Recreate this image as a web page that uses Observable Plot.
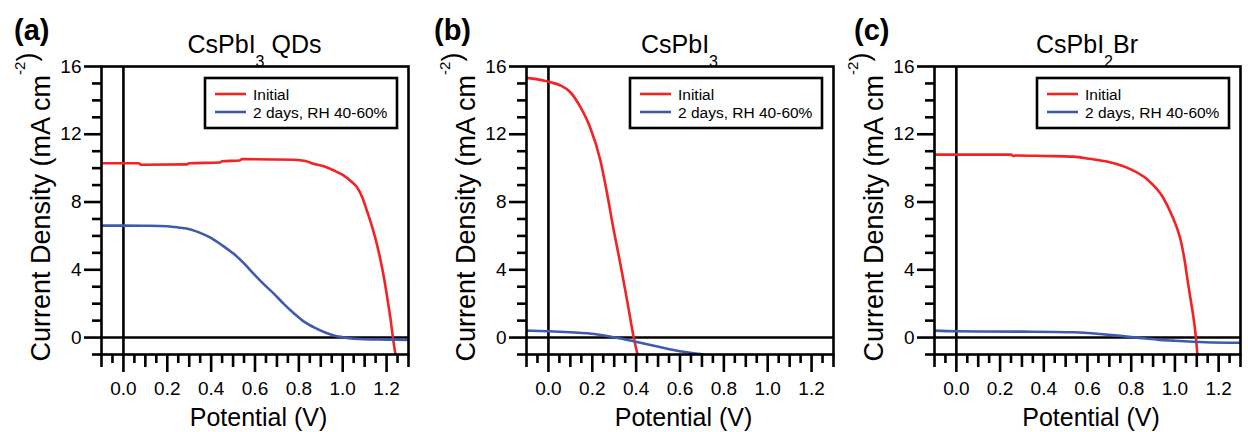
<!DOCTYPE html>
<html><head><meta charset="utf-8">
<script src="https://cdn.jsdelivr.net/npm/d3@7"></script>
<script src="https://cdn.jsdelivr.net/npm/@observablehq/plot@0.6"></script>
<style>
html,body{margin:0;padding:0;background:#fff;}
#chart{position:relative;width:1248px;height:432px;overflow:hidden;font-family:"Liberation Sans",Arial,sans-serif;}
#chart svg{position:absolute;top:0;}
</style></head><body><div id="chart"></div>
<script>
// ---- text ----
const panelLetters = ["(a)", "(b)", "(c)"];
const titleMain = ["CsPbI", "CsPbI", "CsPbI"];
const titleSub = ["3", "3", "2"];
const titleRest = [" QDs", "", "Br"];
const seriesNames = ["Initial", "2 days, RH 40-60%"];
const seriesColors = ["#f42222", "#3e5bb0"];
const xLabel = "Potential (V)";
const yLabelMain = "Current Density (mA cm";
const yLabelSup = "-2";
const yLabelEnd = ")";

// ---- ticks ----
const xTickValues = [0, 0.2, 0.4, 0.6, 0.8, 1.0, 1.2];
const xMidTicks = [-0.1, 0.1, 0.3, 0.5, 0.7, 0.9, 1.1, 1.3];
const xMinorTicks = [-0.05, 0.05, 0.15, 0.25, 0.35, 0.45, 0.55, 0.65, 0.75, 0.85, 0.95, 1.05, 1.15, 1.25];
const yTickValues = [0, 4, 8, 12, 16];
const yMinorTicks = [-1, 1, 2, 3, 5, 6, 7, 9, 10, 11, 13, 14, 15];

// ---- data: (a) CsPbI3 QDs ----
const aInitialV = [-0.1, 0.07, 0.08, 0.29, 0.30, 0.44, 0.45, 0.53, 0.54, 0.78, 0.83, 0.87, 0.92, 0.96, 1.00, 1.04, 1.07, 1.09, 1.11, 1.135, 1.158, 1.175, 1.19, 1.205, 1.218, 1.229, 1.243];
const aInitialJ = [10.29, 10.29, 10.2, 10.22, 10.29, 10.33, 10.41, 10.45, 10.53, 10.5, 10.42, 10.25, 10.08, 9.86, 9.6, 9.2, 8.78, 8.25, 7.5, 6.5, 5.4, 4.4, 3.4, 2.2, 1.1, 0.0, -1.2];
const aAgedV = [-0.1, 0.0, 0.1, 0.2, 0.25, 0.306, 0.35, 0.397, 0.45, 0.503, 0.55, 0.594, 0.64, 0.687, 0.73, 0.778, 0.82, 0.869, 0.92, 0.96, 1.0, 1.04, 1.1, 1.2, 1.3];
const aAgedJ = [6.61, 6.61, 6.6, 6.57, 6.5, 6.38, 6.18, 5.9, 5.45, 4.94, 4.38, 3.76, 3.15, 2.58, 2.0, 1.42, 0.97, 0.6, 0.3, 0.12, 0.02, -0.06, -0.1, -0.12, -0.14];

// ---- data: (b) CsPbI3 ----
const bInitialV = [-0.1, -0.037, 0.009, 0.055, 0.1, 0.146, 0.19, 0.237, 0.268, 0.298, 0.328, 0.359, 0.389, 0.41];
const bInitialJ = [15.33, 15.21, 15.07, 14.88, 14.48, 13.6, 12.41, 10.45, 8.48, 6.32, 4.35, 2.18, 0.0, -1.2];
const bAgedV = [-0.1, 0.0, 0.1, 0.176, 0.24, 0.298, 0.35, 0.389, 0.45, 0.511, 0.57, 0.633, 0.68, 0.709];
const bAgedJ = [0.41, 0.37, 0.31, 0.25, 0.15, 0.02, -0.12, -0.22, -0.4, -0.57, -0.73, -0.87, -0.96, -1.0];

// ---- data: (c) CsPbI2Br ----
const cInitialV = [-0.1, 0.25, 0.26, 0.27, 0.4, 0.535, 0.611, 0.702, 0.793, 0.87, 0.945, 0.99, 1.01, 1.029, 1.045, 1.06, 1.075, 1.087, 1.096, 1.104];
const cInitialJ = [10.8, 10.8, 10.72, 10.75, 10.72, 10.68, 10.55, 10.35, 9.96, 9.37, 8.28, 7.1, 6.45, 5.6, 4.5, 3.2, 2.0, 1.0, 0.0, -1.2];
const cAgedV = [-0.1, 0.0, 0.3, 0.535, 0.6, 0.657, 0.75, 0.839, 0.92, 0.99, 1.14, 1.3];
const cAgedJ = [0.41, 0.37, 0.35, 0.31, 0.27, 0.21, 0.1, -0.02, -0.12, -0.18, -0.28, -0.31];

const panelSeries = [
  [[aInitialV, aInitialJ], [aAgedV, aAgedJ]],
  [[bInitialV, bInitialJ], [bAgedV, bAgedJ]],
  [[cInitialV, cInitialJ], [cAgedV, cAgedJ]]
];

// ---- layout ----
const svgLeft = [0, 420, 840];
const svgWidth = [420, 420, 408];
const mLeft = [101, 106, 94];
const mRight = [12, 7, 8];
const H = 432, mTop = 66, mBottom = 78;
const FONT = "Liberation Sans, Arial, sans-serif";
const SW = 2.6;

const chart = document.getElementById("chart");

panelLetters.forEach((letter, i) => {
  const rows = [];
  panelSeries[i].forEach(([V, J], s) => {
    V.forEach((v, k) => rows.push({V: v, J: J[k], series: seriesNames[s]}));
  });
  const W = svgWidth[i];
  const plot = Plot.plot({
    width: W, height: H,
    marginLeft: mLeft[i], marginRight: mRight[i], marginTop: mTop, marginBottom: mBottom,
    style: {fontFamily: FONT, fontSize: "19px", color: "black", background: "white", overflow: "visible"},
    x: {domain: [-0.1, 1.3], label: null},
    y: {domain: [-1, 16], label: null},
    color: {domain: seriesNames, range: seriesColors},
    marks: [
      Plot.ruleX([0], {stroke: "black", strokeWidth: SW}),
      Plot.ruleY([0], {stroke: "black", strokeWidth: SW}),
      Plot.line(rows, {x: "V", y: "J", z: "series", stroke: "series", strokeWidth: 2.6, curve: "monotone-x", clip: true}),
      Plot.frame({stroke: "black", strokeWidth: SW}),
      Plot.axisX(xTickValues, {tickSize: 18, tickPadding: 9, tickFormat: d3.format(".1f"), stroke: "black", strokeWidth: SW, fontSize: 19, label: null}),
      Plot.axisX(xMidTicks, {tickSize: 13, text: null, stroke: "black", strokeWidth: SW, label: null}),
      Plot.axisX(xMinorTicks, {tickSize: 9, text: null, stroke: "black", strokeWidth: SW, label: null}),
      Plot.axisY(yTickValues, {tickSize: 17, tickPadding: 3, stroke: "black", strokeWidth: SW, fontSize: 19, label: null}),
      Plot.axisY(yMinorTicks, {tickSize: 9, text: null, stroke: "black", strokeWidth: SW, label: null})
    ]
  });
  plot.style.left = svgLeft[i] + "px";
  chart.appendChild(plot);

  const svg = d3.select(plot);
  const fx0 = mLeft[i], fx1 = W - mRight[i];
  const cx = (fx0 + fx1) / 2;

  // panel letter
  svg.append("text").attr("x", 14).attr("y", 40).attr("text-anchor", "start")
    .attr("font-family", FONT).attr("font-weight", "bold").attr("font-size", 29)
    .attr("fill", "black").text(letter);

  // title with subscript
  const t = svg.append("text").attr("x", cx).attr("y", 53).attr("text-anchor", "middle")
    .attr("font-family", FONT).attr("font-size", 25).attr("fill", "black");
  t.append("tspan").text(titleMain[i]);
  t.append("tspan").attr("font-size", 16).attr("dy", 14).text(titleSub[i]);
  t.append("tspan").attr("font-size", 25).attr("dy", -14).text(titleRest[i]);

  // x label
  svg.append("text").attr("x", cx + 4).attr("y", 426).attr("text-anchor", "middle")
    .attr("font-family", FONT).attr("font-size", 25).attr("fill", "black").text(xLabel);

  // y label
  const yl = svg.append("text").attr("transform", `translate(${fx0 - 51},207) rotate(-90)`)
    .attr("text-anchor", "middle").attr("font-family", FONT).attr("font-size", 27).attr("fill", "black");
  yl.append("tspan").text(yLabelMain);
  yl.append("tspan").attr("font-size", 15).attr("dy", -25).text(yLabelSup);
  yl.append("tspan").attr("font-size", 27).attr("dy", 11).text(yLabelEnd);

  // legend
  const lw = 192, lh = 50;
  const lx = fx1 - 11 - lw, ly = 78;
  const lg = svg.append("g").attr("text-anchor", "start");
  lg.append("rect").attr("x", lx).attr("y", ly).attr("width", lw).attr("height", lh)
    .attr("fill", "white").attr("stroke", "black").attr("stroke-width", SW);
  seriesNames.forEach((name, s) => {
    const yy = ly + 16 + s * 18;
    lg.append("line").attr("x1", lx + 10).attr("x2", lx + 41).attr("y1", yy).attr("y2", yy)
      .attr("stroke", seriesColors[s]).attr("stroke-width", 2.6);
    lg.append("text").attr("x", lx + 48).attr("y", yy + 6).attr("text-anchor", "start")
      .attr("font-family", FONT).attr("font-size", 15.5).attr("fill", "black").text(name);
  });
});
</script>
</body></html>
